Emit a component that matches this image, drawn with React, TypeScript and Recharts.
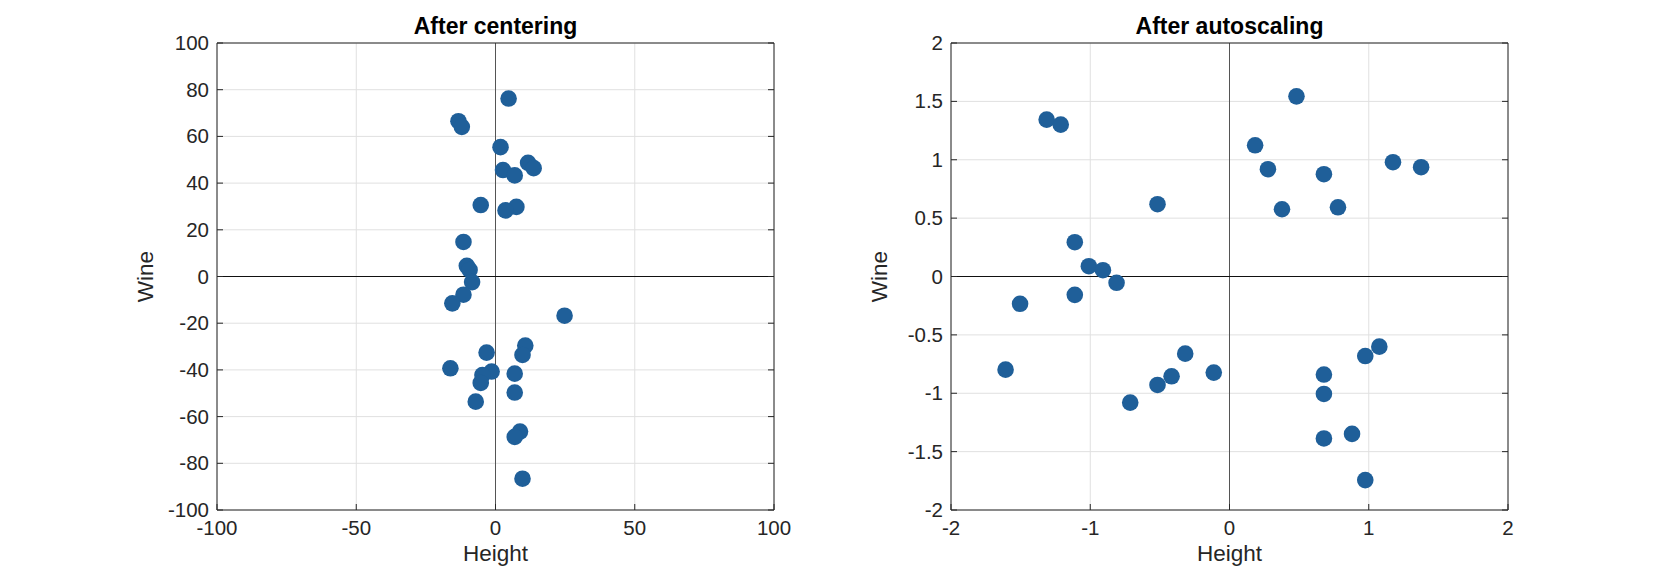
import { ScatterChart, Scatter, XAxis, YAxis, CartesianGrid, ReferenceLine } from 'recharts';

// centered data
const centeredHeight = [4.7, -13.3, -12.1, 1.8, 11.7, 13.7, 2.7, 6.9, -5.3, 7.5, 3.6, -11.5, -10.3, -9.3, -8.4, -11.5, -15.5, 24.8, 10.7, -3.2, 9.7, -16.2, -1.4, 6.9, -4.7, -5.3, 6.9, -7.1, 8.8, 6.9, 9.7];
const centeredWine = [76.2, 66.5, 64.1, 55.4, 48.7, 46.4, 45.6, 43.3, 30.6, 29.8, 28.3, 14.8, 4.6, 2.8, -2.4, -7.8, -11.5, -16.8, -29.6, -32.6, -33.6, -39.3, -40.7, -41.6, -42.2, -45.6, -49.7, -53.6, -66.4, -68.7, -86.6];

// autoscaled data (right panel); the 18th point falls outside the x range
const scaledHeight = [0.481, -1.313, -1.212, 0.184, 1.174, 1.376, 0.276, 0.678, -0.517, 0.779, 0.377, -1.111, -1.01, -0.909, -0.811, -1.111, -1.504, 2.47, 1.076, -0.318, 0.975, -1.608, -0.113, 0.678, -0.416, -0.517, 0.678, -0.713, 0.88, 0.678, 0.975];
const scaledWine = [1.543, 1.344, 1.301, 1.124, 0.979, 0.936, 0.919, 0.876, 0.619, 0.593, 0.576, 0.294, 0.088, 0.054, -0.054, -0.157, -0.234, -0.339, -0.601, -0.661, -0.681, -0.798, -0.823, -0.84, -0.855, -0.929, -1.006, -1.08, -1.348, -1.387, -1.744];

const centeredXTicks = [-100, -50, 0, 50, 100];
const centeredYTicks = [-100, -80, -60, -40, -20, 0, 20, 40, 60, 80, 100];
const scaledXTicks = [-2, -1, 0, 1, 2];
const scaledYTicks = [-2, -1.5, -1, -0.5, 0, 0.5, 1, 1.5, 2];

const FONT = '"Liberation Sans", Arial, Helvetica, sans-serif';
const TEXT = '#262626';
const DOT = '#1f5f99';
const AXIS = '#262626';

const Dot = (props: any) => <circle cx={props.cx} cy={props.cy} r={8.3} fill={DOT} />;

const BottomTick = ({ x, y, payload }: any) => (
  <g>
    <line x1={x} x2={x} y1={y} y2={y - 6} stroke={AXIS} />
    <text x={x} y={y + 25} textAnchor="middle" fill={TEXT} fontSize={20.5} fontFamily={FONT}>
      {payload.value}
    </text>
  </g>
);

const LeftTick = ({ x, y, payload }: any) => (
  <g>
    <line x1={x} x2={x + 6} y1={y} y2={y} stroke={AXIS} />
    <text x={x - 8} y={y + 7} textAnchor="end" fill={TEXT} fontSize={20.5} fontFamily={FONT}>
      {payload.value}
    </text>
  </g>
);

const TopTick = ({ x, y }: any) => <line x1={x} x2={x} y1={y} y2={y + 6} stroke={AXIS} />;
const RightTick = ({ x, y }: any) => <line x1={x} x2={x - 6} y1={y} y2={y} stroke={AXIS} />;

const XTitle = ({ viewBox }: any) => (
  <text x={viewBox.x + viewBox.width / 2} y={viewBox.y + 51} textAnchor="middle" fill={TEXT} fontSize={22.5} fontFamily={FONT}>
    Height
  </text>
);

const YTitle = ({ viewBox }: any) => {
  const cx = viewBox.x + viewBox.width - 64;
  const cy = viewBox.y + viewBox.height / 2;
  return (
    <text x={cx} y={cy} transform={`rotate(-90 ${cx} ${cy})`} textAnchor="middle" fill={TEXT} fontSize={22.5} fontFamily={FONT}>
      Wine
    </text>
  );
};

const makeTitle = (title: string) => ({ viewBox }: any) => (
  <text x={viewBox.x + viewBox.width / 2} y={viewBox.y + 0.5} textAnchor="middle" fill="#000" fontSize={23} fontWeight="bold" fontFamily={FONT}>
    {title}
  </text>
);

interface PanelProps {
  title: string;
  xs: number[];
  ys: number[];
  xTicks: number[];
  yTicks: number[];
  width: number;
  marginLeft: number;
}

const Panel = ({ title, xs, ys, xTicks, yTicks, width, marginLeft }: PanelProps) => {
  const data = xs.map((x, i) => ({ x, y: ys[i] }));
  const xDomain = [xTicks[0], xTicks[xTicks.length - 1]];
  const yDomain = [yTicks[0], yTicks[yTicks.length - 1]];
  const plotWidth = 557;
  return (
    <ScatterChart
      width={width}
      height={573}
      margin={{ top: 33, left: marginLeft, right: width - marginLeft - 60 - plotWidth - 10, bottom: 33 }}
    >
      <CartesianGrid stroke="#e0e0e0" horizontalValues={yTicks} verticalValues={xTicks} />
      <XAxis
        type="number"
        dataKey="x"
        domain={xDomain}
        ticks={xTicks}
        interval={0}
        allowDataOverflow
        height={30}
        tickSize={0}
        tickMargin={0}
        tickLine={false}
        axisLine={{ stroke: AXIS }}
        tick={<BottomTick />}
        label={<XTitle />}
      />
      <XAxis
        xAxisId="top"
        orientation="top"
        type="number"
        domain={xDomain}
        ticks={xTicks}
        interval={0}
        allowDataOverflow
        height={10}
        tickSize={0}
        tickMargin={0}
        tickLine={false}
        axisLine={{ stroke: AXIS }}
        tick={<TopTick />}
        label={makeTitle(title)}
      />
      <YAxis
        type="number"
        dataKey="y"
        domain={yDomain}
        ticks={yTicks}
        interval={0}
        allowDataOverflow
        width={60}
        tickSize={0}
        tickMargin={0}
        tickLine={false}
        axisLine={{ stroke: AXIS }}
        tick={<LeftTick />}
        label={<YTitle />}
      />
      <YAxis
        yAxisId="right"
        orientation="right"
        type="number"
        domain={yDomain}
        ticks={yTicks}
        interval={0}
        allowDataOverflow
        width={10}
        tickSize={0}
        tickMargin={0}
        tickLine={false}
        axisLine={{ stroke: AXIS }}
        tick={<RightTick />}
      />
      <ReferenceLine x={0} stroke="#555555" strokeWidth={1} />
      <ReferenceLine y={0} stroke="#111111" strokeWidth={1} />
      <Scatter data={data} shape={<Dot />} isAnimationActive={false} />
    </ScatterChart>
  );
};

export default function App() {
  return (
    <div style={{ position: 'absolute', left: 0, top: 0, width: 1667, height: 573, background: '#fff' }}>
      <div style={{ position: 'absolute', left: 0, top: 0 }}>
        <Panel
          title="After centering"
          xs={centeredHeight}
          ys={centeredWine}
          xTicks={centeredXTicks}
          yTicks={centeredYTicks}
          width={834}
          marginLeft={157}
        />
      </div>
      <div style={{ position: 'absolute', left: 834, top: 0 }}>
        <Panel
          title="After autoscaling"
          xs={scaledHeight}
          ys={scaledWine}
          xTicks={scaledXTicks}
          yTicks={scaledYTicks}
          width={833}
          marginLeft={57}
        />
      </div>
    </div>
  );
}
